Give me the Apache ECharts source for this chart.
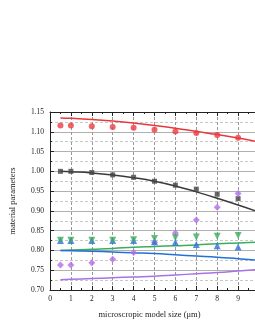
<!DOCTYPE html>
<html><head><meta charset="utf-8">
<script src="https://cdn.jsdelivr.net/npm/echarts@6/dist/echarts.min.js"></script>
<style>html,body{margin:0;padding:0;background:#fff}#c{width:255px;height:330px}</style>
</head><body><div id="c"></div>
<script>
var sizes = [0.5, 1, 2, 3, 4, 5, 6, 7, 8, 9];
var redPts    = [1.116, 1.116, 1.114, 1.112, 1.110, 1.105, 1.101, 1.097, 1.092, 1.085];
var blackPts  = [1.000, 1.000, 0.997, 0.991, 0.985, 0.975, 0.965, 0.955, 0.942, 0.931];
var purplePts = [0.763, 0.763, 0.769, 0.778, 0.795, 0.821, 0.844, 0.877, 0.909, 0.944];
var greenPts  = [0.826, 0.826, 0.826, 0.826, 0.827, 0.830, 0.832, 0.834, 0.836, 0.838];
var bluePts   = [0.825, 0.825, 0.825, 0.825, 0.825, 0.822, 0.821, 0.815, 0.812, 0.809];

var lineX      = [0.5, 1, 2, 3, 4, 5, 6, 7, 8, 9, 10];
var redLine    = [1.135, 1.134, 1.131, 1.127, 1.122, 1.116, 1.109, 1.101, 1.093, 1.084, 1.074];
var blackLine  = [1.000, 0.999, 0.996, 0.991, 0.984, 0.975, 0.963, 0.948, 0.932, 0.915, 0.897];
var greenLine  = [0.800, 0.801, 0.803, 0.805, 0.808, 0.810, 0.812, 0.814, 0.817, 0.819, 0.821];
var blueLine   = [0.800, 0.7995, 0.798, 0.796, 0.794, 0.792, 0.789, 0.786, 0.783, 0.779, 0.775];
var purpleLine = [0.726, 0.727, 0.729, 0.731, 0.733, 0.735, 0.738, 0.741, 0.744, 0.748, 0.752];

var yTicks = [0.70, 0.75, 0.80, 0.85, 0.90, 0.95, 1.00, 1.05, 1.10, 1.15];

function pairs(xs, ys){ return xs.map(function(x,i){ return [x, ys[i]]; }); }
var font = 'Liberation Serif';
function pts(name, data, symbol, size, color, rot){
  return {type:'scatter', name:name, data:pairs(sizes,data), symbol:symbol, symbolSize:size,
    symbolRotate: rot||0, itemStyle:{color:color}, z:5};
}
function ln(name, data, color){
  return {type:'line', name:name, data:pairs(lineX,data), smooth:true, showSymbol:false,
    lineStyle:{color:color, width:1.5}, z:3};
}
var chart = echarts.init(document.getElementById('c'), null, {renderer:'canvas'});
chart.setOption({
  animation:false,
  grid:{left:50, top:112, width:209, height:178, outerBoundsMode:'none', containLabel:false},
  xAxis:[{
    type:'value', min:0, max:10, interval:1,
    name:'microscropic model size (\u03bcm)', nameLocation:'middle', nameGap:20,
    nameTextStyle:{fontFamily:font, fontSize:8.5, color:'#222', padding:[0,10,0,0]},
    axisLine:{lineStyle:{color:'#222', width:1}},
    axisTick:{inside:true, length:4, lineStyle:{color:'#222'}},
    minorTick:{show:true, splitNumber:2, length:2, lineStyle:{color:'#222'}},
    axisLabel:{fontFamily:font, fontSize:7.5, color:'#222', margin:5,
      formatter:function(v){ return v>=10 ? '' : v; }},
    splitLine:{show:true, lineStyle:{color:'#999', type:[3,2], width:1}}
  },{
    type:'value', min:0, max:10, interval:1, position:'top',
    axisLine:{show:true, lineStyle:{color:'#222', width:1}},
    axisTick:{show:true, inside:true, length:4, lineStyle:{color:'#222'}},
    minorTick:{show:true, splitNumber:2, length:2, lineStyle:{color:'#222'}},
    axisLabel:{show:false}, splitLine:{show:false}
  }],
  yAxis:{
    type:'value', min:0.70, max:1.15, interval:0.05,
    name:'material parameters', nameLocation:'middle', nameGap:33,
    nameTextStyle:{fontFamily:font, fontSize:8.5, color:'#222'},
    axisLine:{show:true, lineStyle:{color:'#222', width:1}},
    axisTick:{show:true, inside:true, length:4, lineStyle:{color:'#222'}},
    minorTick:{show:true, splitNumber:2, length:2, lineStyle:{color:'#222'}},
    axisLabel:{fontFamily:font, fontSize:7.5, color:'#222', margin:6,
      formatter:function(v){ return v.toFixed(2); }},
    splitLine:{show:true, lineStyle:{color:'#b0b0b0', width:1}},
    minorSplitLine:{show:true, lineStyle:{color:'#c8c8c8', type:[3,2], width:1}}
  },
  series:[
    ln('red fit', redLine, '#e8383c'),
    ln('black fit', blackLine, '#3a3a3a'),
    ln('green fit', greenLine, '#3aae5c'),
    ln('blue fit', blueLine, '#2270d8'),
    ln('purple fit', purpleLine, '#a872e6'),
    pts('red', redPts, 'circle', 6, '#ef3b40'),
    pts('black', blackPts, 'rect', 5, '#444444'),
    pts('purple', purplePts, 'diamond', 7, '#b36ee8'),
    pts('blue', bluePts, 'triangle', 7, '#2a72dc'),
    pts('green', greenPts, 'triangle', 7, '#3cae5e', 180)
  ]
});
</script></body></html>
